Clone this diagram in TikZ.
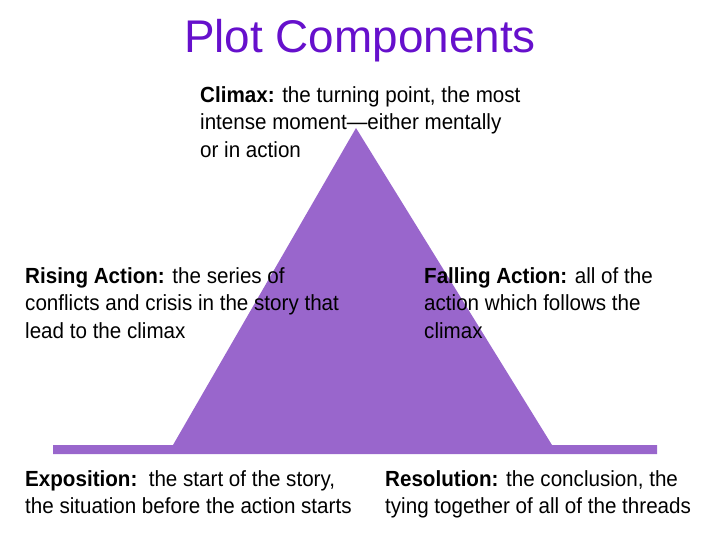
\documentclass[tikz,border=0pt]{standalone}
\usepackage{fontspec}
\setmainfont[FakeStretch=0.94]{Liberation Sans}
\newfontfamily\titlefont{Liberation Sans}
\usepackage{xcolor}
\definecolor{plotpurple}{HTML}{9966CC}
\definecolor{titleviolet}{HTML}{6610CC}
\usetikzlibrary{calc,positioning}
\tikzset{
  plottext/.style={anchor=north west, inner sep=0pt, align=left, text=black},
}

\begin{document}
\begin{tikzpicture}[x=1bp, y=-1bp, font=\fontsize{22}{28}\selectfont]
		\useasboundingbox (0,0) rectangle (720,540);

		\coordinate (BandL) at (53,445);
		\coordinate (RiseFoot) at (173,445);
		\coordinate (Peak) at (356,128);
		\coordinate (FallFoot) at (552,445);
		\coordinate (BandR) at (657,445);

		\fill[plotpurple] (BandL) -- (RiseFoot) -- (Peak) -- (FallFoot) -- (BandR)
			-- ++(0,9) -- ($(BandL)+(0,9)$) -- cycle;

		\node[titleviolet, anchor=base, font=\titlefont\fontsize{46}{50}\selectfont] (title) at (360,53) {Plot Components};

		\node[plottext] (climax) at (200,86) {\textbf{Climax:} the turning point, the most\\intense moment—either mentally\\or in action};
		\node[plottext] (rising) at (25,267) {\textbf{Rising Action:} the series of\\conflicts and crisis in the story that\\lead to the climax};
		\node[plottext] (falling) at (424,267) {\textbf{Falling Action:} all of the\\action which follows the\\climax};
		\node[plottext] (exposition) at (25,470) {\textbf{Exposition:}\ \ the start of the story,\\the situation before the action starts};
		\node[plottext] (resolution) at (385,470) {\textbf{Resolution:} the conclusion, the\\tying together of all of the threads};
	\end{tikzpicture}
\end{document}
